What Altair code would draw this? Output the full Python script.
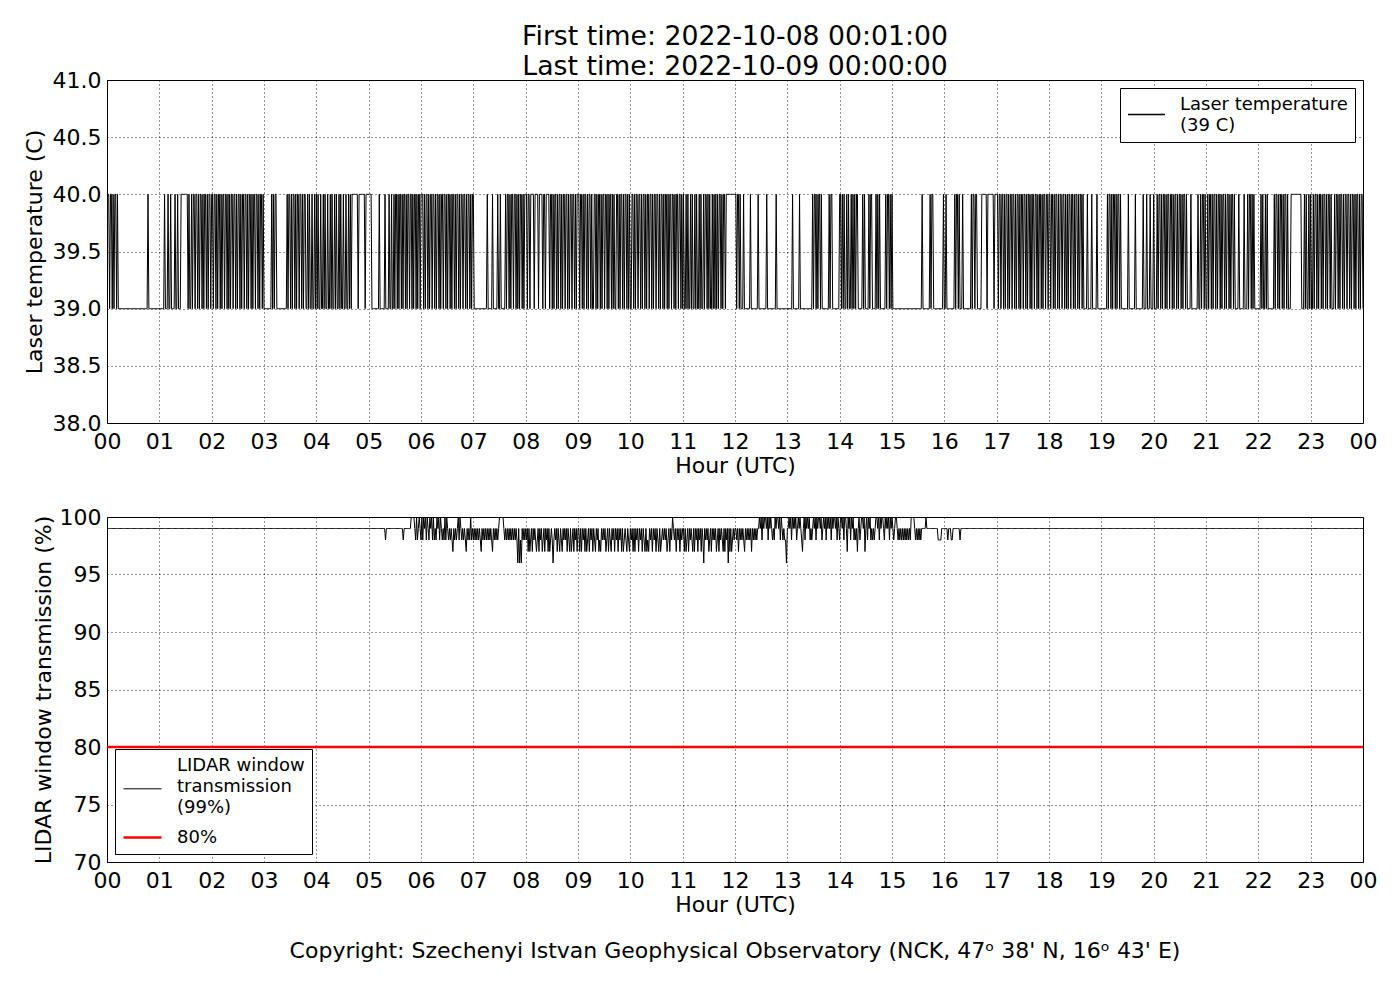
import altair as alt
import pandas as pd

FONT = "DejaVu Sans"

first_time = "2022-10-08 00:01:00"
last_time = "2022-10-09 00:00:00"

# Laser temperature read per minute, one string per hour: "1" = 40 C, "0" = 39 C
laser_hours = [
    "110110101101" + "0000000000000000000000000000000000" + "1" + "0000000000000",
    "00000100010010000100100011111111" + "0100101" + "101101011010110101101",
    "1011010110101101101010110110101101011011010110101101101011010",
    "00000000" + "1" + "010110" + "00000000000" + "1011010110101101101011" + "0010100100101",
    "0100100101001001010010100101001001001010" + "11111110111111101111",
    "111" + "000000000100000010000100100" + "1011010110101101011011010110101101",
    "1101011010110110101101011011010110101101011010110110101101011",
    "000000000000000" + "100000100000100100000" + "101101011011010101101011",
    "1011011110111101111011011110110101101011010110110101101101011",
    "1011010110101101001101011010110110101101010011010110101101010",
    "0110101101101011010110110101101101011010110101101101011011010",
    "100101001010010100101001011010100101010101101011011111111111",
    "1011010" + "00" + "1" + "0000000" + "1" + "00000000" + "1" + "000000000" + "1" + "0000000000" + "1" + "0000000000000",
    "00000" + "1" + "0000000" + "1" + "00000000000000" + "10110101101" + "00000000" + "10110" + "0000000" + "1",
    "1010100101" + "00" + "10101011" + "00000" + "1010" + "000" + "10110" + "000" + "10101" + "000000" + "10110101",
    "000000000000000000000000000000000" + "1" + "00000000" + "10110" + "0000000000" + "1" + "0",
    "01" + "000000000" + "101101" + "000" + "1" + "000000000" + "1011011" + "00000" + "111111011111110111",
    "1011011010110101101101011010110110101101011011010110101101101",
    "1011010110101101101010110110101101011010" + "000" + "1" + "0000" + "1" + "00000" + "1" + "00000",
    "000000" + "1011010110101101" + "00000000" + "1" + "0000000" + "1" + "00000000" + "1" + "000" + "1" + "000" + "1" + "000" + "1",
    "0001" + "0110101101011011010110101101011010" + "000" + "1" + "0000000" + "1" + "00" + "1011010",
    "0" + "1011010110101101011010110101101" + "0000" + "1" + "00000" + "1" + "000" + "10110101" + "00000",
    "00" + "10100101" + "0000000" + "1011010110101101" + "000" + "111111111111" + "000" + "10100101",
    "001" + "01101011010110101101" + "000" + "10110101101011011010110101101011" + "0",
]
laser_codes = {"0": 39.0, "1": 40.0}

# LIDAR window transmission read per minute, one string per hour:
# "a" = 100 %, "9" = 99 %, "8" = 98 %, "7" = 97 %, "6" = 96 %
trans_hours = [
    "999999999999999999999999999999999999999999999999999999999999",
    "999999999999999999999999999999999999999999999999999999999999",
    "999999999999999999999999999999999999999999999999999999999999",
    "999999999999999999999999999999999999999999999999999999999999",
    "999999999999999999999999999999999999999999999999999999999999",
    "999999999999999999" + "8" + "9999999999999999999" + "8" + "99999999" + "aaaa" + "98a89a98",
    "a8a9a8a98a9a8a898a9a8a9898a8a989898798989a8a98989879898a898",
    "98989898" + "7" + "989898989898" + "7" + "989898" + "9aaaaa9" + "898989898989898" + "696869" + "8989",
    "8979" + "7" + "8979898" + "7" + "897989" + "7" + "89798979" + "7" + "898" + "6" + "898979879879898979879789798979",
    "979798979789798979879897879898978979879897989798979789879879",
    "89797989798979879787989798979879789898978979" + "8a98" + "979897989",
    "97978979898797989798" + "979869" + "898978979898978979898797989" + "6" + "97978989",
    "98979898987989898979898989" + "9a9a8a9aa9a8a9a9898a9aa9a8a9" + "898869",
    "9a9a8a9a9a89a9a9879a8a9a9a8989a9a8a9aa9a89a9a8a9a9a8a9aa9a8a98",
    "aa9a8aa97a9a8a9a898979a89aa9a79a8a9a898989aa9a8a9aa98a9a9a8a9a",
    "989aa9898989898989898aaaa98989898" + "99999a9999999999999" + "8888" + "9999",
    "999" + "8" + "999" + "88" + "99999999" + "8" + "999999999999999999999999999999999999999999",
    "999999999999999999999999999999999999999999999999999999999999",
    "999999999999999999999999999999999999999999999999999999999999",
    "999999999999999999999999999999999999999999999999999999999999",
    "999999999999999999999999999999999999999999999999999999999999",
    "999999999999999999999999999999999999999999999999999999999999",
    "999999999999999999999999999999999999999999999999999999999999",
    "999999999999999999999999999999999999999999999999999999999999",
]
trans_codes = {"a": 100.0, "9": 99.0, "8": 98.0, "7": 97.0, "6": 96.0}

laser_label = "Laser temperature|(39 C)"
trans_label = "LIDAR window|transmission|(99%)"
thr_label = "80%"
threshold_value = 80.0
threshold_hours = [0.0, 24.0]

hour_ticks = list(range(25))
laser_ticks = [38.0, 38.5, 39.0, 39.5, 40.0, 40.5, 41.0]
trans_ticks = [70, 75, 80, 85, 90, 95, 100]

copyright_text = "Copyright: Szechenyi Istvan Geophysical Observatory (NCK, 47\u1d52  38' N, 16\u1d52  43' E)"


def expand(hours, codes):
    rows = []
    for h, s in enumerate(hours):
        n = len(s)
        for i, c in enumerate(s):
            rows.append((h + (i + 1) / n, codes[c]))
    return rows


laser_df = pd.DataFrame(expand(laser_hours, laser_codes), columns=["hour", "value"])
laser_df["series"] = laser_label

trans_df = pd.DataFrame(expand(trans_hours, trans_codes), columns=["hour", "value"])
trans_df["series"] = trans_label
thr_df = pd.DataFrame({"hour": threshold_hours, "value": [threshold_value] * len(threshold_hours)})
thr_df["series"] = thr_label
bottom_df = pd.concat([trans_df, thr_df], ignore_index=True)

label_expr = "datum.value >= 24 ? '00' : (datum.value < 10 ? '0' + datum.value : '' + datum.value)"


def x_enc():
    return alt.X(
        "hour:Q",
        scale=alt.Scale(domain=[0, 24], nice=False, zero=False),
        axis=alt.Axis(values=hour_ticks, labelExpr=label_expr, title="Hour (UTC)",
                      labelPadding=8, titlePadding=3, labelFlush=False),
    )


def legend(orient, size, symbol, baseline, row_pad):
    return alt.Legend(title=None, orient=orient, offset=8,
                      labelExpr="split(datum.label, '|')",
                      symbolType=symbol, symbolSize=size, labelBaseline=baseline,
                      labelOffset=14, padding=7, rowPadding=row_pad, strokeColor="black",
                      fillColor="white", labelFontSize=18, labelFont=FONT,
                      labelColor="black", labelLimit=400, cornerRadius=0)


top = alt.Chart(laser_df).mark_line(strokeWidth=1, clip=True).encode(
    x=x_enc(),
    y=alt.Y("value:Q", scale=alt.Scale(domain=[38, 41], nice=False, zero=False),
            axis=alt.Axis(values=laser_ticks, format=".1f", title="Laser temperature (C)",
                          labelPadding=6, titlePadding=6)),
    color=alt.Color("series:N", scale=alt.Scale(domain=[laser_label], range=["black"]),
                    legend=legend("top-right", 1369, "stroke", "line-bottom", 3)),
).properties(
    width=1256, height=343,
    title=alt.TitleParams(text=["First time: " + first_time, "Last time: " + last_time],
                          anchor="middle", frame="group", fontSize=26.7, font=FONT,
                          fontWeight="normal", lineHeight=30, offset=-12, color="black"),
)

bottom_baseline = {"expr": "datum.label == '80%' ? 'middle' : 'line-bottom'"}
bottom_symbol = {"expr": "datum.label == '80%' ? 'M-1,0H1' : 'M-1,0.7H1'"}

bottom = alt.Chart(bottom_df).mark_line(clip=True).encode(
    x=x_enc(),
    y=alt.Y("value:Q", scale=alt.Scale(domain=[70, 100], nice=False, zero=False),
            axis=alt.Axis(values=trans_ticks, format="d", title="LIDAR window transmission (%)",
                          labelPadding=6, titlePadding=4)),
    color=alt.Color("series:N", scale=alt.Scale(domain=[trans_label, thr_label], range=["black", "red"]),
                    legend=legend("bottom-left", 1444, bottom_symbol, bottom_baseline, 0)),
    strokeWidth=alt.StrokeWidth("series:N", scale=alt.Scale(domain=[trans_label, thr_label], range=[1, 2.5]),
                                legend=legend("bottom-left", 1444, bottom_symbol, bottom_baseline, 0)),
    detail="series:N",
).properties(
    width=1256, height=345,
    title=alt.TitleParams(text=copyright_text, orient="bottom", anchor="middle", frame="group",
                          fontSize=22, font=FONT, fontWeight="normal", offset=26, color="black"),
)

chart = alt.vconcat(top, bottom, spacing=28).resolve_scale(
    color="independent", strokeWidth="independent"
).resolve_legend(
    color="independent", strokeWidth="independent"
).properties(
    padding={"left": 14, "top": 15, "right": 10, "bottom": 5}
).configure(
    style={"guide-label": {"lineHeight": 21}}
).configure_view(
    stroke="black", strokeWidth=1
).configure_axis(
    labelFont=FONT, titleFont=FONT, labelFontSize=22, titleFontSize=22,
    labelColor="black", titleColor="black", titleFontWeight="normal",
    domain=False, ticks=False, tickSize=0, grid=True, gridColor="black",
    gridDash=[1, 3], gridWidth=1, gridOpacity=0.85,
)

chart.save("out.html", embed_options={"renderer": "svg", "actions": False})
